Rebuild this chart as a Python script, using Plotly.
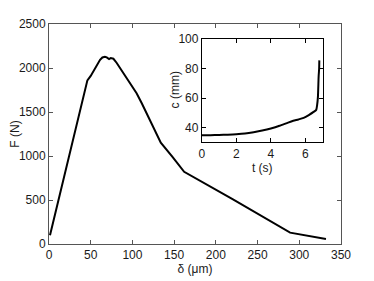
import plotly.graph_objects as go

# Main curve: force vs displacement
delta_um = [1.2, 10, 20, 30, 37, 42, 46, 50, 53, 55.2, 58, 61.2, 64, 67, 69.2, 72, 74, 77.2, 81, 85.2, 92, 99.2,
            105, 111.2, 121, 134, 148, 162, 220, 289, 332]
force_N = [99, 450, 850, 1250, 1530, 1730, 1860, 1910, 1960, 1999, 2040, 2093, 2120, 2128, 2120, 2101, 2112, 2105, 2060, 1999, 1910, 1808,
           1714, 1600, 1410, 1151, 990, 821, 510, 129, 57]

# Inset: crack length vs time
t_s = [0, 0.5, 1, 1.5, 2, 2.5, 3, 3.5, 4, 4.5, 5, 5.3, 5.6, 5.9, 6.2, 6.5, 6.63, 6.68, 6.73, 6.77, 6.8, 6.81]
c_mm = [34.8, 34.85, 35.0, 35.2, 35.5, 36.0, 36.9, 38.0, 39.4, 41.2, 43.4, 44.6, 45.5, 46.6, 48.5, 50.8, 52.0, 55.0, 61.0, 74.6, 80.0, 85.5]

main_x_ticks = [0, 50, 100, 150, 200, 250, 300, 350]
main_y_ticks = [0, 500, 1000, 1500, 2000, 2500]
inset_x_ticks = [0, 2, 4, 6]
inset_y_ticks = [40, 60, 80, 100]

FONT = "Liberation Sans"
fig = go.Figure()
fig.add_trace(go.Scatter(x=delta_um, y=force_N, mode="lines",
                         line=dict(color="black", width=2), xaxis="x", yaxis="y", showlegend=False))
fig.add_trace(go.Scatter(x=t_s, y=c_mm, mode="lines",
                         line=dict(color="black", width=2, shape="spline", smoothing=0.6),
                         xaxis="x2", yaxis="y2", showlegend=False))

ax_common = dict(showgrid=False, zeroline=False, showline=True, linecolor="#555555", linewidth=1,
                 mirror="ticks", ticks="inside", ticklen=4, tickcolor="#555555", automargin=False,
                 tickfont=dict(family=FONT, size=12, color="#1a1a1a"))
inset_common = {**ax_common, "linecolor": "black", "tickcolor": "black"}

# page body has an 8px margin, so the figure is sized to fit inside the window
fig.update_layout(
    width=366, height=273,
    margin=dict(l=41, r=33, t=16, b=37),
    paper_bgcolor="white", plot_bgcolor="white",
    font=dict(family=FONT, size=12, color="#1a1a1a"),
    xaxis=dict(domain=[0, 1], range=[0, 350], tickvals=main_x_ticks,
               title=dict(text="δ (μm)", standoff=0, font=dict(size=12)), **ax_common),
    yaxis=dict(domain=[0, 1], range=[0, 2500], tickvals=main_y_ticks,
               title=dict(text="F (N)", standoff=0, font=dict(size=12)), **ax_common),
    xaxis2=dict(domain=[0.5235, 0.937], range=[0, 7], tickvals=inset_x_ticks, anchor="y2",
                title=dict(text="t (s)", standoff=0, font=dict(size=12)), **inset_common),
    yaxis2=dict(domain=[0.462, 0.932], range=[30, 100], tickvals=inset_y_ticks, anchor="x2",
                **inset_common),
    annotations=[dict(text="c (mm)", textangle=-90, xref="paper", yref="paper",
                      x=(175 - 8 - 41) / 292, y=(235.7 - (90.5 - 8)) / 219.4,
                      xanchor="center", yanchor="middle", showarrow=False,
                      font=dict(family=FONT, size=12, color="#1a1a1a"))],
)

fig.write_html("out.html")
